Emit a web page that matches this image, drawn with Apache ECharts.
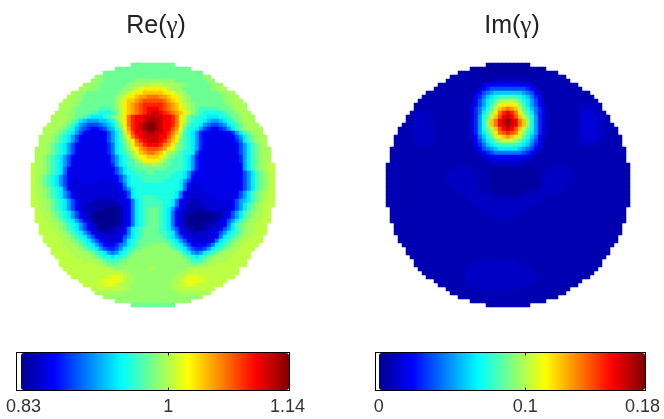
<!DOCTYPE html>
<html>
<head>
<meta charset="utf-8">
<style>html,body{margin:0;padding:0;background:#fff}#c{width:664px;height:419px}</style>
<script src="https://cdn.jsdelivr.net/npm/echarts@6/dist/echarts.min.js"></script>
</head>
<body>
<div id="c"></div>
<script>
// Field levels, one string per image row.
// a..z = 0..1 of the colour range; A..Z = half a step above the lowercase letter; . = outside the disk.
const reRows = [
".......... .......... .....mmmmm mmmmmm.... .......... .......... .",
".......... .......... .mmmmmmmmm mmmmmmmmmm .......... .......... .",
".......... ........mm mmmmmmmmmm mmmmmmmmmm mmm....... .......... .",
".......... ......nnmm mmmmmmmmmm mmmmmmmmmm mmmnn..... .......... .",
".......... .....nnnmm mmmmmmnnnn nnnnnnmmmm mmmmnn.... .......... .",
".......... ...Nnnnmmm mmmmnnNNNN oooNNNNnnm mmmmmnnN.. .......... .",
".......... ..NNnnnmmm mmmnnNopqq qqqpoNnnmm mmmmmnnNN. .......... .",
".......... NNnnmmmmmm mmnNopqqrr rrrqqpoNnm mmmmmmmnnN N......... .",
".........N Nnnmmmmmmm mnNoqqrsst ttssrqqoNn mmmmmmmmnn NN........ .",
"........NN Nnnmmmmmmm mnoqrrstuu uuutsrqoNn mmmmmmmmnn NNN....... .",
".......NNN nnmmmmmmmm mnoqrstuvv vvvutsrqoN nmmmmmmmmn nNNN...... .",
".......NNN nmmmmmmlll mnoqrstuvw wwvutsrqoN nmlllllmmm nNNN...... .",
"......NNNn nmmmmllkkk lmoqrstuvw xxwvutsrqo nmlkkkkklm mnNNN..... .",
".....NNNNn nmmlkjjjkl mnoqtvwwxx yxxwwvtqom llkkjjjkkl mmnNNN.... .",
".....NNNNn mljihhhiij kmoqtvwwxy yyxwwvtqom lkkjihhijk lmnNNN.... .",
"....NNNNnm ljhgfffghi jlnqtvwxyz zyxwwvtqnl kkjhgffghj klmnNNN... .",
"...NNNNnml kigfeddefh ikmpsvwxyz zyxwwuspmk kjhfeddefh jlmnNNNN.. .",
"...NNNnmlk jhfddCCddf hjloruwwxy yxxwvtrolk jhedCCCCdd ehjlmnNN.. .",
"..NNNnmlkj hfdCCCCCdf hjlnqtvwxx xxwwusqnlk jhedCCCCCd dfhjlmnNN. .",
"..NNNnmlkj hfdCCCCCdf hjlmoqtvwx xxwvtrqmlk jhedCCCCCC degjlmnNN. .",
"..NNnmlkjh fdCCCCCCCe gjkmnqstvw wwvtsqnmlk jhedCCCCCC CdfhjlmnN. .",
".NNNnmlkjh fdCCCCCCCe gjklnpqstu uutsqpnmlk jhedCCCCCC CdfhjlmnNN .",
".NNNnmlkjh fdCCCCCCCe gjklmnprst tsrpnnmlkk jfdCCCCCCC CdfhjlmnNN .",
".NNnmlkjhf dCCCCCCCCd fhjklnopqr rrqonmllkj hedCCCCCCC CCehjlmnNN .",
".NNnmlkjhf dCCCCCCCCd fhjkllnoqq qqonmlllkj hedCCCCCCC CCehjlmnNN .",
"oNNnmlkjhf dCCCCCCCCC ehjkllmmnn Nnnmmlllkj hedCCCCCCC CCdhjlmnNo o",
"oNNnmlkjgd CCCCCCCCCC dfhjkllmmm mmmmllllkj hedCCCCCCC CCdhjlmnNo o",
"oNNnmlkjgd CCCCCCCCCC dfhjkklllm mlllllkkjh edCCCCCCCC CCdfhjlmnN o",
"oNnmlkjhfd CCCCCCCCCC Cdfhjkklll lllllkkkjh dCCCCCCCCC CCdfhjlmnN o",
"oNnmlkjhfd ccCCCCCCcc Cdfhjkkkll lllkkkkjhf dCCCCCCCCC CCdfhjlmnN o",
"oNnmlkjhfd cccccccccc cCdgjkkkkk kkkkkkkjgd ccCCCCCCCC CCdfhjlmnN o",
"oNNnmlkjgd cccccccccc ccdfhjkkkk kkkkkkkjgd cccCCCCCCC CCdfhjlmnN o",
"oNNnmlkjhf dccccccccc cccdfjkkkk kkkkkkjgdc ccccCCCCCC CdfhjlmnNo o",
"oNNnmlkjhf dccccccccc cccdfjkkll lkkkkkjgdc ccccccCCCC CdfhjlmnNo o",
"ooNNnmlkjh fdccccbbbb bcccdgjkll lllkkjgdcc bbccccccCc dfhijlmnNo o",
"ooNNnmlkjh fdccbbbbbb bbccdgjkll lllkkjgdcb bbbcccccCc dfhjlmnNoo o",
".oNNnmlkjh fdcbbbbbaa aabcdgjklm mmlkjhedcb bbbbcccccc dfhjlmnNoo .",
".ooNNnmlkj hfdccbaaaa aabcdgjklm mmlkjgdcbb baaaabbbcd fhjlmnNNoo .",
".ooNNnmlkj hfdcbaaaaa aabcdgjklm mmlkjgdcba aaaaaabbcd fhjlmnNNoo .",
".oooNNnmlk jhfdcbaaaa aabcdgjklm mmlkjgdcba aaaaabbcdf hjlmnNNooo .",
"..oooNNnml kjhfdcbaaa aabcdgjklm mmlkjgdcba aaabbbccdg jlmnNNooo. .",
"..oooNNnml kjhfdcbaab bccdgjklmm mmlkjhfdcb baabbccdfh jlmnNNooo. .",
"..ooooNNnm lkjhfdccbb bccdgjklmm mmllkjgdcc bbccccdfhj klmnNNooo. .",
"...ooooNNn mlkjhfdccc ccdfhjklmm mmmlkjhfdc ccccccdgjk lmnNNooo.. .",
"...oooooNN nmlkjhfdcc ccdgjklmmm mmmmlkjhfd cccccdgjkl mnNNoooo.. .",
"....ooooNN Nnmlkjhfdd deghjklmmm nnnnmlkjhf ddddegjklm nNNoooo... .",
".....ooooN NNnmlkjhfe efhjklmmnn nnnnnmlkjh feefhjklmn NNoooo.... .",
".....ooooo NNNNnmlkjh ghjklmnnnn nnnnnnnmkj hghjklmnNN Noooo..... .",
"......oooo oNNNNnmlkk jkklmnnnnn nnnnnnnnml kjklmnNNNN ooooo..... .",
".......ooo oooNNNNnml llmmnnnnnn nnnnnnnnnm lllmnNNNNo oooo...... .",
".......ooo ooooooNNnm mmnnnnnnnn nnnnnnnnnn mmnnNNoooo oooo...... .",
"........oo oooooooooo NnnnnnnnnN NnnnnnnnnN ooooooooo ooo....... .",
".........o oooooooooo oooNNnnnnn nnnnnnnNNo oooooooooo oo........ .",
".......... oooooooooO pppoNNnnnn nnnnnnNNop ppOooooooo o......... .",
".......... ..oooooOpp pppoNNnnnn nnnnnNNopp pppOooooo. .......... .",
".......... ...ooooOOp pOoNNnnnnn nnnnnNNoOp pOoooooo.. .......... .",
".......... .....ooooo oooNNnnnnn nnnnnNNooo oooooo.... .......... .",
".......... ......NNNN NNNnnnnnnn nnnnnnnNNN NNNNN..... .......... .",
".......... ........Nn nnnnnnnnnn nnnnnnnnnn nnN....... .......... .",
".......... .......... .nnnnnnnnn nnnnnnnnnn .......... .......... .",
".......... .......... .....mmmmm mmmmmm.... .......... .......... ."
];
const imRows = [
"AAAAAAAAAAA",
"AAAAAAAAAAAAAAAAAAA",
"bbbbbAAAAAAAAAAAAAAAbbbbb",
"bbbbbbbbbbbbbbbbbbbbbbbbbbbbb",
"bbbbbbbbb bbbBBBBBBBbbb bbbbbbbbb",
"bbbbbbbb bbbcdddddddddddcbbb bbbbbbbb",
"bbbbbbbbb bbcdefffffffffedcbb bbbbbbbbb",
"bbbbbbbbbbb bcdfghiiiiiiihgfdcb bbbbbbbbbbb",
"bbbbbbbbbbbb bdegijklllllkjigedb bbbbbbbbbbbb",
"bbbbbbbbbbbbb bdfhjkmnooonmkjhfdb bbbbbbbbbbbbb",
"bbbbbbbbbbbbbb cdfhjlnpqqqpnljhfdc bbbbbbbbBBBBBb",
"bbbbbbbbbbbbbb cegikmorstsromkigec bbbbbbbbBBBBBb",
"bbBBBbbbbbbbbbb cegjlnqtvwvtqnljgec bbbbbbbbBcccBBb",
"bbBBBBbbbbbbbbbb cehkmoruwxwuromkhec bbbbbbbbBccccBBb",
"bbBBBBbbbbbbbbbb cehknrtwxzxwtrnkhec bbbbbbbbBccccBBb",
"bbbBBBBBbbbbbbbbb cehknrtwxyxwtrnkhec bbbbbbbbBccccBBbb",
"bbbbBBBBBbbbbbbbbb cehkmoruwxwuromkhec bbbbbbbbBccccBBbbb",
"bbbbBBBBBbbbbbbbbb cehjlnqtuvutqnljhec bbbbbbbbBccccBBbbb",
"bbbbbBBBBBbbbbbbbbb cdgikmoqrsrqomkigdc bbbbbbbbBccccBBbbbb",
"bbbbbBBBBBbbbbbbbbb bdfhjkmnooonmkjhfdb bbbbbbbbBBcBBBbbbbb",
"bbbbbbBBBbbbbbbbbbb bdegijklllllkjigedb bbbbbbbbbBBBBbbbbbb",
"bbbbbbbbbbbbbbbbbbbb bcdfghijjjjjihgfdcb bbbbbbbbbbbbbbbbbbbb",
"bbbbbbbbbbbbbbbbbbbb bbcdefgggggggfedcbb bbbbbbbbbbbbbbbbbbbb",
"bbbbbbbbbbbbbbbbbbbb bbbccdddddddddccbbb bbbbbbbbbbbbbbbbbbbb",
"bbbbbbbbbbbbbbbbbbbb bbbbBBcccccccBBbbbb bbbbbbbbbbbbbbbbbbbb",
"bbbbbbbbbbbbbbbbbbbbbbbbbb BBBBBBBBB bbbbbbbbbbbbbbbbbbbbbbbbbb",
"bbbbbbbbbbbbbbbbb BBBB bbbbb AAAAAAAAAAA bbbb BBBBB bbbbbbbbbbbbbbb",
"bbbbbbbbbbbbbbb BBBBBBB bbbb AAAAAAAAAAAA bb BBBBBBB bbbbbbbbbbbbbb",
"bbbbbbbbbbbbbbb BBBBBBB bbbb AAAAAAAAAAAA bb BBBBBBB bbbbbbbbbbbbbb",
"bbbbbbbbbbbbbbb BBBBBBB bbbb AAAAAAAAAAAA bb BBBBBBB bbbbbbbbbbbbbb",
"bbbbbbbbbbbbbbbb BBBBBBB bbb AAAAAAAAAAAA bb BBBBBB bbbbbbbbbbbbbbb",
"bbbbbbbbbbbbbbbbb BBBBBB bbb AAAAAAAAAA bbb BBBBBB bbbbbbbbbbbbbbbb",
"bbbbbbbbbbbbbbbbbb BBBBBB bbbb AAAAAA bbbb BBBBBB bbbbbbbbbbbbbbbbb",
"bbbbbbbbbbbbbbbbbbbb BBBBBB bbbbbbbb BBBBBB bbbbbbbbbbbbbbbbbbbbb",
"bbbbbbbbbbbbbbbbbbbbb BBBBBBBBBBBBBBBBBB bbbbbbbbbbbbbbbbbbbbbb",
"bbbbbbbbbbbbbbbbbbbbbb BBBBBBBBBBBBBBB bbbbbbbbbbbbbbbbbbbbbbbb",
"bbbbbbbbbbbbbbbbbbbbbbb BBBBBBBBBBBB bbbbbbbbbbbbbbbbbbbbbbbb",
"bbbbbbbbbbbbbbbbbbbbbbbb BBBBBBBBB bbbbbbbbbbbbbbbbbbbbbbbbbb",
"bbbbbbbbbbbbbbbbbbbbbbbbbb BBBBB bbbbbbbbbbbbbbbbbbbbbbbbbbbb",
"bbbbbbbbbbbbbbbbbbbbbbbbbbbbbbbbbbbbbbbbbbbbbbbbbbbbbbbbbbb",
"bbbbbbbbbbbbbbbbbbbbbbbbbbbbbbbbbbbbbbbbbbbbbbbbbbbbbbbbb",
"bbbbbbbbbbbbbbbbbbbbbbbbbbbbbbbbbbbbbbbbbbbbbbbbbbbbbbbbb",
"bbbbbbbbbbbbbbbbbbbbbbbbbbbbbbbbbbbbbbbbbbbbbbbbbbbbbbbbb",
"bbbbbbbbbbbbbbbbbbbbbbbbbbbbbbbbbbbbbbbbbbbbbbbbbbbbbbb",
"bbbbbbbbbbbbbbbbbbbbbbbbbbbbbbbbbbbbbbbbbbbbbbbbbbbbbbb",
"bbbbbbbbbbbbbbbbbbbbbbbbbbbbbbbbbbbbbbbbbbbbbbbbbbbbb",
"bbbbbbbbbbbbbbbbbbbbbbbbbbbbbbbbbbbbbbbbbbbbbbbbbbb",
"bbbbbbbbbbbbbbbbbbbbbbbbbbbbbbbbbbbbbbbbbbbbbbbbbbb",
"bbbbbbbbbbbbbbbbbbbbbbbbbbbbbbbbbbbbbbbbbbbbbbbbb",
"bbbbbbbbbbbbbbbbb BBBBBBBB bbbbbbbbbbbbbbbbbbbbbb",
"bbbbbbbbbbbbbb BBBBBBBBBBBBBB bbbbbbbbbbbbbbbbbbb",
"bbbbbbbbbbbb BBBBBBBBBBBBBBBB bbbbbbbbbbbbbbbbb",
"bbbbbbbbbbb BBBBBBBBBBBBBBBBB bbbbbbbbbbbbbbb",
"bbbbbbbbbb BBBBBBBBBBBBBBBBBB bbbbbbbbbbbbb",
"bbbbbbbb BBBBBBBBBBBBBBBBBB bbbbbbbbbbb",
"bbbbbbbb BBBBBBBBBBBBBBB bbbbbbbbbbbb",
"bbbbbbbb BBBBBBBBBB bbbbbbbbbbbbb",
"bbbbbbbbbbbbbbbbbbbbbbbbbbbbb",
"bbbbbbbbbbbbbbbbbbbbbbbbb",
"bbbbbbbbbbbbbbbbbbb",
"bbbbbbbbbbb"
];
const reRange = [0.83, 1.14];
const imRange = [0, 0.18];
const reTicks = [0.83, 1, 1.14];
const imTicks = [0, 0.1, 0.18];
const reMarks = [1];
const imMarks = [0.1];
const gridSize = 61;
const jet = ['#00008f','#0000ff','#0080ff','#00ffff','#80ff80','#ffff00','#ff8000','#ff0000','#800000'];

function level(ch) {
  const lower = ch.toLowerCase();
  const i = lower.charCodeAt(0) - 97;
  return (ch === lower ? i : i + 0.5) / 25;
}
function decode(rows, range) {
  const out = [];
  rows.forEach((raw, r) => {
    const row = raw.replace(/ /g, '');
    const offset = Math.floor((gridSize - row.length) / 2);
    for (let k = 0; k < row.length; k++) {
      if (row[k] === '.') continue;
      out.push([offset + k, r, range[0] + level(row[k]) * (range[1] - range[0])]);
    }
  });
  return out;
}
const cats = Array.from({length: gridSize}, (_, i) => i);
const catX = i => ({type:'category', gridIndex:i, data:cats, show:false});
const catY = i => ({type:'category', gridIndex:i, data:cats, show:false, inverse:true});
const labelFont = {fontFamily:'"Liberation Sans",Arial,sans-serif', fontSize:18, color:'#333', margin:8, hideOverlap:false};
function cbX(i, min, max, ticks, marks, pos) {
  return {
    type:'value', gridIndex:i, position:pos, min, max, z:10,
    axisLine:{show:true, onZero:false, lineStyle:{color:'#000', width:1}},
    axisTick:{show:true, inside:true, length:3, customValues:marks, lineStyle:{color:'#000'}},
    axisLabel: pos === 'bottom'
      ? Object.assign({show:true, customValues:ticks, formatter:v => String(v)}, labelFont)
      : {show:false},
    splitLine:{show:false}
  };
}
const cbY = i => ({type:'value', gridIndex:i, min:0, max:1, z:10, show:true,
  axisLine:{show:false}, axisTick:{show:false}, axisLabel:{show:false}, splitLine:{show:false}});
function titleOf(name, x) {
  return {
    text:'{a|' + name + '(}{b|γ}{a|)}', left:x, top:9, textAlign:'center',
    textStyle:{fontWeight:'normal', rich:{
      a:{fontFamily:'"Liberation Sans",Arial,sans-serif', fontSize:25, fontWeight:'normal', color:'#222'},
      b:{fontFamily:'"Liberation Serif",serif', fontSize:25, fontWeight:'normal', color:'#222'}
    }}
  };
}
const chart = echarts.init(document.getElementById('c'), null, {renderer:'canvas'});
chart.setOption({
  animation:false,
  backgroundColor:'#fff',
  title:[titleOf('Re', 151), titleOf('Im', 507)],
  grid:[
    {left:31, top:63, width:244, height:244},
    {left:386, top:63, width:244, height:244},
    {left:16.5, top:352.5, width:273, height:38, show:true, borderColor:'#000', borderWidth:1, backgroundColor:'transparent'},
    {left:375.5, top:352.5, width:270, height:38, show:true, borderColor:'#000', borderWidth:1, backgroundColor:'transparent'}
  ],
  xAxis:[
    catX(0), catX(1),
    cbX(2, 0.8219, 1.1423, reTicks, reMarks, 'bottom'),
    cbX(2, 0.8219, 1.1423, reTicks, reMarks, 'top'),
    cbX(3, -0.0022, 0.1821, imTicks, imMarks, 'bottom'),
    cbX(3, -0.0022, 0.1821, imTicks, imMarks, 'top')
  ],
  yAxis:[catY(0), catY(1), cbY(2), cbY(3)],
  visualMap:[
    {type:'continuous', seriesIndex:0, min:reRange[0], max:reRange[1], orient:'horizontal',
     left:21, top:353, itemWidth:37, itemHeight:268, padding:0, calculable:false, hoverLink:false,
     inRange:{color:jet}, text:null, z:4},
    {type:'continuous', seriesIndex:1, min:imRange[0], max:imRange[1], orient:'horizontal',
     left:379, top:353, itemWidth:37, itemHeight:266, padding:0, calculable:false, hoverLink:false,
     inRange:{color:jet}, text:null, z:4}
  ],
  series:[
    {type:'heatmap', xAxisIndex:0, yAxisIndex:0, data:decode(reRows, reRange), progressive:0},
    {type:'heatmap', xAxisIndex:1, yAxisIndex:1, data:decode(imRows, imRange), progressive:0}
  ]
});
</script>
</body>
</html>
